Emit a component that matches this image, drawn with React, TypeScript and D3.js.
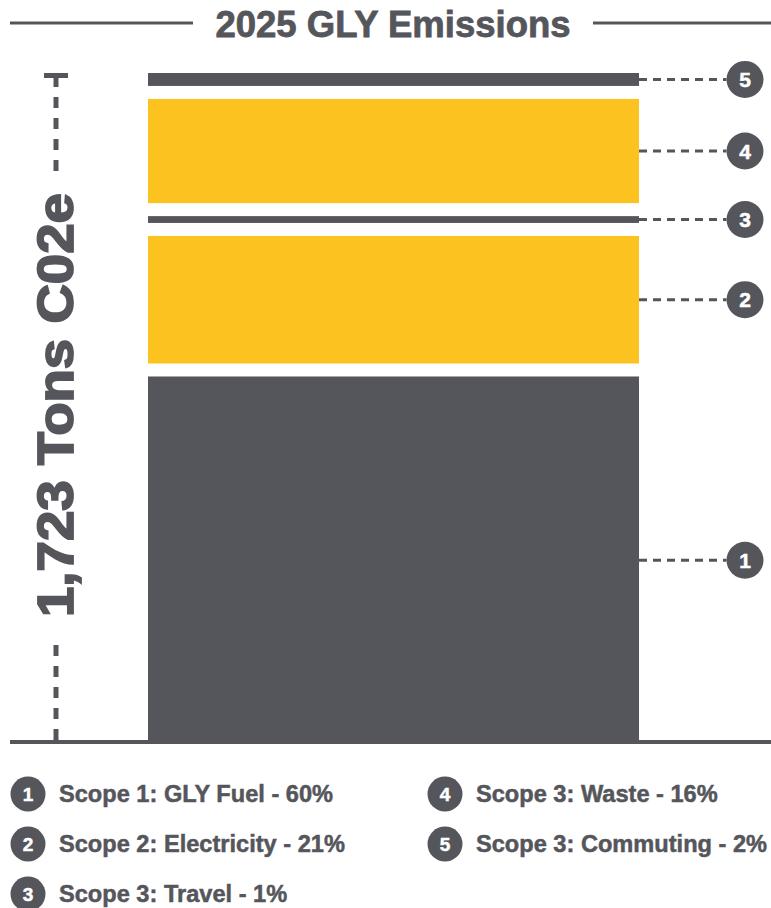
import React, { useEffect, useRef } from 'react';
import * as d3 from 'd3';

// segments from bottom to top (tons CO2e)
const ids = [1, 2, 3, 4, 5];
const segmentValues = [1023, 355, 19, 290, 36];
const segmentColors = ['#55565b', '#fcc320', '#55565b', '#fcc320', '#55565b'];
const legendLabels = [
  'Scope 1: GLY Fuel - 60%',
  'Scope 2: Electricity - 21%',
  'Scope 3: Travel - 1%',
  'Scope 3: Waste - 16%',
  'Scope 3: Commuting - 2%',
];
const title = '2025 GLY Emissions';
const axisLabel = '1,723 Tons C02e';

const W = 771;
const H = 908;
const DARK = '#55565b';
const FONT = '"Liberation Sans", Arial, sans-serif';

const App: React.FC = () => {
  const svgRef = useRef<SVGSVGElement | null>(null);

  useEffect(() => {
    if (!svgRef.current) return;
    const svg = d3.select(svgRef.current);
    svg.selectAll('*').remove();

    const barLeft = 148, barRight = 639;
    const barTop = 73, barBottom = 744;
    const gap = 13;
    const total = d3.sum(segmentValues);
    const content = barBottom - barTop - gap * (segmentValues.length - 1);

    const h = d3.scaleLinear().domain([0, total]).range([0, content]);

    // stack with gaps
    let cursor = barBottom;
    const segs = segmentValues.map((v, i) => {
      const y1 = cursor;
      const y0 = y1 - h(v);
      cursor = y0 - gap;
      return { id: ids[i], y0, y1, mid: (y0 + y1) / 2, color: segmentColors[i] };
    });

    // title + rules
    svg.append('line')
      .attr('x1', 10).attr('x2', 193).attr('y1', 23).attr('y2', 23)
      .attr('stroke', DARK).attr('stroke-width', 3);
    svg.append('line')
      .attr('x1', 593).attr('x2', 771).attr('y1', 23).attr('y2', 23)
      .attr('stroke', DARK).attr('stroke-width', 3);
    svg.append('text')
      .attr('x', 393).attr('y', 37)
      .attr('text-anchor', 'middle')
      .attr('font-family', FONT).attr('font-weight', 'bold')
      .attr('font-size', 36.5).attr('fill', DARK)
      .attr('stroke', DARK).attr('stroke-width', 0.8)
      .text(title);

    // bar segments
    svg.append('g')
      .selectAll('rect')
      .data(segs)
      .join('rect')
      .attr('x', barLeft)
      .attr('width', barRight - barLeft)
      .attr('y', d => d.y0)
      .attr('height', d => d.y1 - d.y0)
      .attr('fill', d => d.color);

    // baseline
    svg.append('line')
      .attr('x1', 10).attr('x2', 771).attr('y1', 742).attr('y2', 742)
      .attr('stroke', DARK).attr('stroke-width', 4);

    // left axis: cap, dashes, label
    const ax = 56;
    svg.append('line')
      .attr('x1', 44).attr('x2', 68).attr('y1', 75.5).attr('y2', 75.5)
      .attr('stroke', DARK).attr('stroke-width', 5);
    svg.append('line')
      .attr('x1', ax).attr('x2', ax).attr('y1', 76).attr('y2', 171)
      .attr('stroke', DARK).attr('stroke-width', 5)
      .attr('stroke-dasharray', '11,10');
    svg.append('line')
      .attr('x1', ax).attr('x2', ax).attr('y1', 645).attr('y2', 742)
      .attr('stroke', DARK).attr('stroke-width', 5)
      .attr('stroke-dasharray', '11,10');
    svg.append('text')
      .attr('transform', `translate(73,405) rotate(-90)`)
      .attr('text-anchor', 'middle')
      .attr('font-family', FONT).attr('font-weight', 'bold')
      .attr('font-size', 50).attr('fill', DARK)
      .attr('stroke', DARK).attr('stroke-width', 1.8)
      .attr('textLength', 424).attr('lengthAdjust', 'spacingAndGlyphs')
      .text(axisLabel);

    // callouts
    const cx = 745, r = 18.5;
    const callouts = svg.append('g').selectAll('g').data(segs).join('g');
    callouts.append('line')
      .attr('x1', barRight).attr('x2', cx - r)
      .attr('y1', d => d.mid).attr('y2', d => d.mid)
      .attr('stroke', DARK).attr('stroke-width', 3)
      .attr('stroke-dasharray', '8,6');
    callouts.append('circle')
      .attr('cx', cx).attr('cy', d => d.mid).attr('r', r)
      .attr('fill', DARK);
    callouts.append('text')
      .attr('x', cx).attr('y', d => d.mid)
      .attr('dy', '0.36em')
      .attr('text-anchor', 'middle')
      .attr('font-family', FONT).attr('font-weight', 'bold')
      .attr('font-size', 21).attr('fill', '#fff')
      .attr('stroke', '#fff').attr('stroke-width', 0.5)
      .text(d => d.id);

    // legend
    const legendItems = legendLabels.map((label, i) => ({
      id: ids[i],
      label,
      x: i < 3 ? 28 : 445,
      y: 794 + (i % 3) * 50,
    }));
    const lg = svg.append('g').selectAll('g').data(legendItems).join('g');
    lg.append('circle')
      .attr('cx', d => d.x).attr('cy', d => d.y).attr('r', 17.5)
      .attr('fill', DARK);
    lg.append('text')
      .attr('x', d => d.x).attr('y', d => d.y).attr('dy', '0.36em')
      .attr('text-anchor', 'middle')
      .attr('font-family', FONT).attr('font-weight', 'bold')
      .attr('font-size', 19).attr('fill', '#fff')
      .attr('stroke', '#fff').attr('stroke-width', 0.5)
      .text(d => d.id);
    lg.append('text')
      .attr('x', d => d.x + 31).attr('y', d => d.y).attr('dy', '0.36em')
      .attr('font-family', FONT).attr('font-weight', 'bold')
      .attr('font-size', 23.6).attr('fill', DARK)
      .attr('stroke', DARK).attr('stroke-width', 0.5)
      .text(d => d.label);
  }, []);

  return (
    <svg
      ref={svgRef}
      width={W}
      height={H}
      style={{ position: 'absolute', left: 0, top: 0, background: '#fff' }}
    />
  );
};

export default App;
